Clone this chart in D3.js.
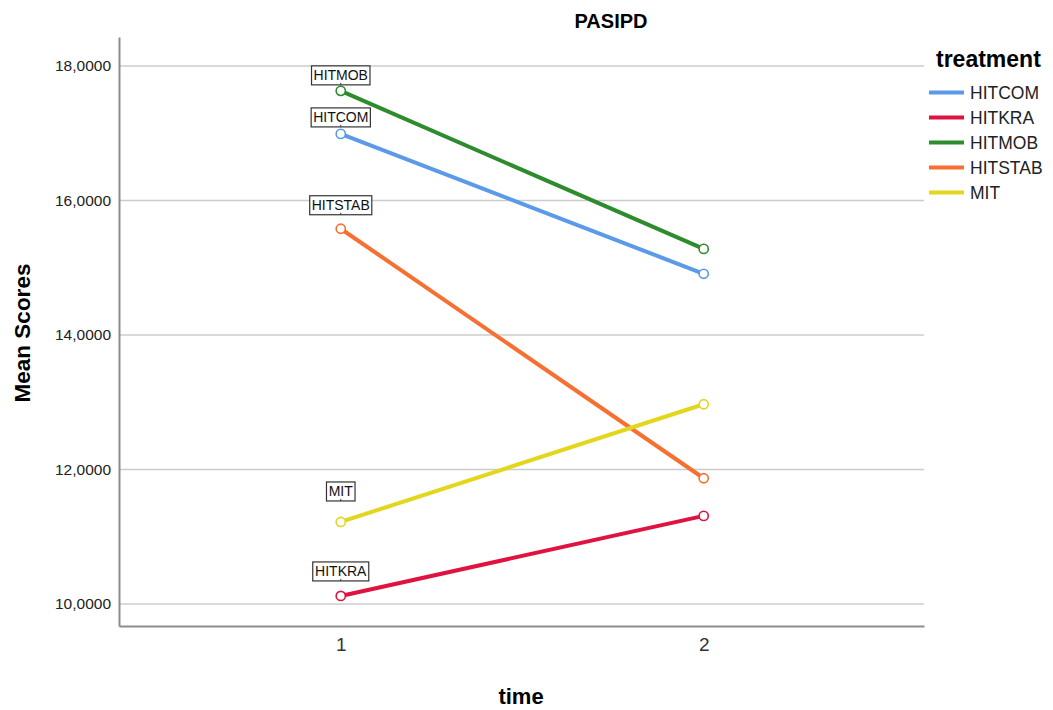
<!DOCTYPE html>
<html>
<head>
<meta charset="utf-8">
<script src="https://cdn.jsdelivr.net/npm/d3@7/dist/d3.min.js"></script>
<style>
  body { margin: 0; background: #fff; }
  text { font-family: "Liberation Sans", Arial, sans-serif; }
</style>
</head>
<body>
<script>
// data ---------------------------------------------------------------------
var times = [1, 2];
var treatments = ["HITCOM", "HITKRA", "HITMOB", "HITSTAB", "MIT"];
var hitcom  = [16.99, 14.91];
var hitkra  = [10.12, 11.31];
var hitmob  = [17.63, 15.28];
var hitstab = [15.58, 11.87];
var mit     = [11.22, 12.97];
var yTicks = [10, 12, 14, 16, 18];

var colors = ["#5a9ae8", "#e0123f", "#2e8b2e", "#f57031", "#e3d61c"];
// how far the label box sits above the point at time 1
var labelGap = [7, 15, 6, 14, 21];

var series = [hitcom, hitkra, hitmob, hitstab, mit];

// svg area
var svgWidth = 1053;
var svgHeight = 710;
var plot = { left: 119, right: 924, top: 37, bottom: 626 };

var svg = d3.select("body")
  .append("svg")
  .attr("width", svgWidth)
  .attr("height", svgHeight);

var xScale = d3.scaleLinear()
  .domain([0.389, 2.607])
  .range([plot.left, plot.right]);

var yScale = d3.scaleLinear()
  .domain([9.673, 18.431])
  .range([plot.bottom, plot.top]);

// gridlines
svg.append("g")
  .selectAll("line")
  .data(yTicks)
  .enter()
  .append("line")
  .attr("x1", plot.left)
  .attr("x2", plot.right)
  .attr("y1", function(d) { return yScale(d); })
  .attr("y2", function(d) { return yScale(d); })
  .attr("stroke", "#cccccc")
  .attr("stroke-width", 1.5);

// y axis
var yAxis = d3.axisLeft(yScale)
  .tickValues(yTicks)
  .tickSize(0)
  .tickPadding(8)
  .tickFormat(function(d) { return d3.format(".4f")(d).replace(".", ","); });

var yG = svg.append("g")
  .attr("transform", `translate(${plot.left},0)`)
  .call(yAxis);
yG.select(".domain").attr("stroke", "#8c8c8c").attr("stroke-width", 2);
yG.selectAll("text")
  .attr("font-size", "15.5px")
  .attr("fill", "#222")
  .style("font-family", "Liberation Sans, Arial, sans-serif");

// x axis
var xAxis = d3.axisBottom(xScale)
  .tickValues(times)
  .tickSize(0)
  .tickPadding(12)
  .tickFormat(d3.format("d"));

var xG = svg.append("g")
  .attr("transform", `translate(0,${plot.bottom})`)
  .call(xAxis);
xG.select(".domain").attr("stroke", "#8c8c8c").attr("stroke-width", 2);
xG.selectAll("text")
  .attr("font-size", "19px")
  .attr("fill", "#333")
  .style("font-family", "Liberation Sans, Arial, sans-serif");

// lines
var line = d3.line()
  .x(function(d, i) { return xScale(times[i]); })
  .y(function(d) { return yScale(d); });

svg.append("g")
  .selectAll("path")
  .data(series)
  .enter()
  .append("path")
  .attr("d", function(d) { return line(d); })
  .attr("fill", "none")
  .attr("stroke", function(d, i) { return colors[i]; })
  .attr("stroke-width", 4);

// open circle markers
series.forEach(function(s, si) {
  svg.append("g")
    .selectAll("circle")
    .data(s)
    .enter()
    .append("circle")
    .attr("cx", function(d, i) { return xScale(times[i]); })
    .attr("cy", function(d) { return yScale(d); })
    .attr("r", 4.6)
    .attr("fill", "#fff")
    .attr("stroke", colors[si])
    .attr("stroke-width", 1.6);
});

// boxed labels at time 1
series.forEach(function(s, si) {
  var cx = xScale(times[0]);
  var bottom = yScale(s[0]) - labelGap[si];
  var g = svg.append("g");
  var t = g.append("text")
    .attr("x", cx)
    .attr("y", bottom - 5)
    .attr("text-anchor", "middle")
    .attr("font-size", "14px")
    .attr("fill", "#111")
    .text(treatments[si]);
  var bb = t.node().getBBox();
  g.insert("rect", "text")
    .attr("x", cx - bb.width / 2 - 2)
    .attr("y", bottom - 19)
    .attr("width", bb.width + 4)
    .attr("height", 19)
    .attr("fill", "#fff")
    .attr("stroke", "#333")
    .attr("stroke-width", 1.2);
  g.append("line")
    .attr("x1", cx).attr("x2", cx)
    .attr("y1", bottom).attr("y2", bottom - 2)
    .attr("stroke", "#333");
});

// titles
svg.append("text")
  .attr("x", 611)
  .attr("y", 28)
  .attr("text-anchor", "middle")
  .attr("font-size", "20px")
  .attr("font-weight", "bold")
  .text("PASIPD");

svg.append("text")
  .attr("x", 521)
  .attr("y", 704)
  .attr("text-anchor", "middle")
  .attr("font-size", "22px")
  .attr("font-weight", "bold")
  .text("time");

svg.append("text")
  .attr("transform", "rotate(-90)")
  .attr("x", -333)
  .attr("y", 30)
  .attr("text-anchor", "middle")
  .attr("font-size", "22.5px")
  .attr("font-weight", "bold")
  .text("Mean Scores");

// legend
svg.append("text")
  .attr("x", 936)
  .attr("y", 67)
  .attr("font-size", "23px")
  .attr("font-weight", "bold")
  .text("treatment");

var legend = svg.append("g")
  .selectAll("g")
  .data(treatments)
  .enter()
  .append("g")
  .attr("transform", function(d, i) { return `translate(929,${92.5 + i * 25})`; });

legend.append("line")
  .attr("x1", 0).attr("x2", 35)
  .attr("stroke", function(d, i) { return colors[i]; })
  .attr("stroke-width", 4);

legend.append("text")
  .attr("x", 41)
  .attr("y", 6.5)
  .attr("font-size", "17.5px")
  .attr("fill", "#222")
  .text(function(d) { return d; });
</script>
</body>
</html>
